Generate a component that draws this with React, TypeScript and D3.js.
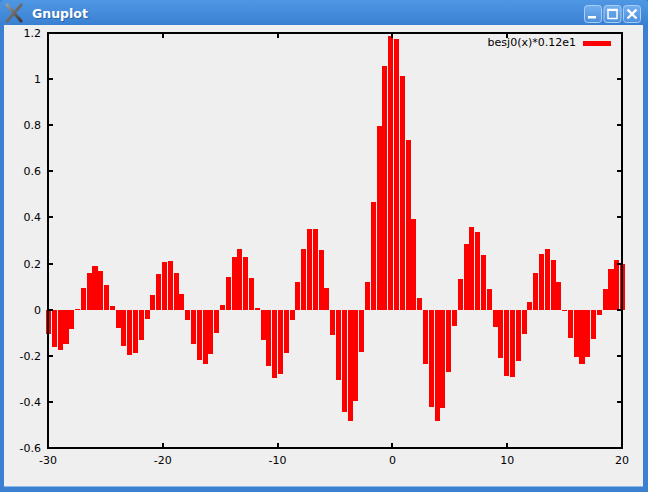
import * as d3 from 'd3'

// besj0(x)*0.12e1 sampled at gnuplot's default 100 samples over [-30:20]
const values = [
  -0.104, -0.16, -0.177, -0.15, -0.085, 0.003, 0.092, 0.16, 0.188, 0.169,
  0.108, 0.018, -0.078, -0.157, -0.198, -0.189, -0.133, -0.042, 0.062, 0.153,
  0.208, 0.211, 0.161, 0.069, -0.043, -0.148, -0.218, -0.235, -0.192, -0.101,
  0.021, 0.14, 0.229, 0.262, 0.23, 0.138, 0.007, -0.131, -0.243, -0.297,
  -0.279, -0.188, -0.043, 0.121, 0.264, 0.349, 0.349, 0.258, 0.094, -0.111,
  -0.307, -0.445, -0.481, -0.394, -0.185, 0.118, 0.466, 0.798, 1.055, 1.188,
  1.173, 1.012, 0.736, 0.395, 0.052, -0.236, -0.423, -0.483, -0.425, -0.271,
  -0.069, 0.132, 0.284, 0.357, 0.338, 0.239, 0.088, -0.075, -0.211, -0.289,
  -0.292, -0.224, -0.105, 0.035, 0.161, 0.242, 0.261, 0.215, 0.118, -0.005,
  -0.122, -0.205, -0.236, -0.207, -0.129, -0.021, 0.089, 0.175, 0.215, 0.2,
]
const xDomain: [number, number] = [-30, 20]
const yDomain: [number, number] = [-0.6, 1.2]
const xTickValues = [-30, -20, -10, 0, 10, 20]
const yTickValues = [-0.6, -0.4, -0.2, 0, 0.2, 0.4, 0.6, 0.8, 1, 1.2]
const seriesTitle = 'besj0(x)*0.12e1'
const windowTitle = 'Gnuplot'
const statusText = '-29.3571,  -0.65128'

const W = 648
const H = 492
const plot = { left: 48, right: 622, top: 33, bottom: 448 }
const FONT = '"DejaVu Sans", sans-serif'

export default function App() {
  const x = d3.scaleLinear().domain(xDomain).range([plot.left, plot.right])
  const y = d3.scaleLinear().domain(yDomain).range([plot.bottom, plot.top])
  // sample index -> x value
  const sx = d3.scaleLinear().domain([0, values.length - 1]).range(xDomain)
  const step = x(sx(1)) - x(sx(0))
  const bw = step * 0.87
  const label = (v: number) => String(+v.toFixed(1))
  const tick = 5

  return (
    <>
      <style>{'body{margin:0}'}</style>
      <svg width={W} height={H} style={{ display: 'block' }} fontFamily={FONT}>
        <defs>
          <linearGradient id="tb" x1="0" y1="0" x2="0" y2="1">
            <stop offset="0" stopColor="#4f97e3" />
            <stop offset="1" stopColor="#3a80d2" />
          </linearGradient>
          <linearGradient id="btn" x1="0" y1="0" x2="0" y2="1">
            <stop offset="0" stopColor="#74aeef" />
            <stop offset="1" stopColor="#4c90de" />
          </linearGradient>
          <linearGradient id="xi" x1="0" y1="0" x2="1" y2="1">
            <stop offset="0" stopColor="#9a9a9a" />
            <stop offset="1" stopColor="#3a3a3a" />
          </linearGradient>
        </defs>

        {/* window frame */}
        <rect x={0} y={0} width={W} height={H} fill="#3b80d1" />
        <rect x={0} y={0} width={W} height={25} rx={4} fill="url(#tb)" />
        <rect x={4} y={25} width={W - 9} height={H - 30} fill="#efefef" />

        {/* title bar icon + title */}
        <g stroke="url(#xi)" strokeWidth={3.2} strokeLinecap="round">
          <line x1={7} y1={5} x2={21} y2={21} />
          <line x1={21} y1={5} x2={7} y2={21} />
        </g>
        <text x={33} y={19} fontSize={12.5} fontWeight="bold" fill="#1e4f8c" opacity={0.6}>
          {windowTitle}
        </text>
        <text x={32} y={18} fontSize={12.5} fontWeight="bold" fill="#fff">
          {windowTitle}
        </text>

        {/* title bar buttons */}
        {[584, 603.5, 623].map((bx, i) => (
          <g key={i} transform={`translate(${bx},5)`}>
            <rect x={0.5} y={0.5} width={17} height={17} rx={3} fill="url(#btn)" stroke="#a9cdf4" />
            {i === 0 && <rect x={4} y={11} width={8} height={2.5} fill="#fff" />}
            {i === 1 && (
              <g fill="none" stroke="#fff">
                <rect x={4.5} y={4.5} width={9} height={9} strokeWidth={1.5} />
                <line x1={4} y1={5} x2={14} y2={5} strokeWidth={2} />
              </g>
            )}
            {i === 2 && (
              <g stroke="#fff" strokeWidth={2.4}>
                <line x1={4.5} y1={4.5} x2={13.5} y2={13.5} />
                <line x1={13.5} y1={4.5} x2={4.5} y2={13.5} />
              </g>
            )}
          </g>
        ))}

        {/* bars */}
        <g fill="#ff0000" shapeRendering="crispEdges">
          {values.map((v, i) => (
            <rect
              key={i}
              x={x(sx(i)) - bw / 2 + 0.6}
              y={y(Math.max(0, v))}
              width={bw}
              height={Math.abs(y(v) - y(0))}
            />
          ))}
        </g>

        {/* border + ticks */}
        <g stroke="#000" strokeWidth={2} shapeRendering="crispEdges" fill="none">
          <rect x={plot.left} y={plot.top} width={plot.right - plot.left} height={plot.bottom - plot.top} />
          {yTickValues.map((v) => (
            <g key={v}>
              <line x1={plot.left} x2={plot.left + tick} y1={y(v)} y2={y(v)} />
              <line x1={plot.right - tick} x2={plot.right} y1={y(v)} y2={y(v)} />
            </g>
          ))}
          {xTickValues.map((v) => (
            <g key={v}>
              <line x1={x(v)} x2={x(v)} y1={plot.bottom} y2={plot.bottom - tick} />
              <line x1={x(v)} x2={x(v)} y1={plot.top} y2={plot.top + tick} />
            </g>
          ))}
        </g>

        {/* tick labels */}
        <g fontSize={11} fill="#000">
          {yTickValues.map((v) => (
            <text key={v} x={41} y={y(v) + 4} textAnchor="end">
              {label(v)}
            </text>
          ))}
          {xTickValues.map((v) => (
            <text key={v} x={x(v)} y={464} textAnchor="middle">
              {label(v)}
            </text>
          ))}
        </g>

        {/* key */}
        <text x={576} y={46} fontSize={11} textAnchor="end" fill="#000">
          {seriesTitle}
        </text>
        <rect x={583} y={41} width={28} height={5} fill="#ff0000" />

        {/* status line, mostly hidden under the window border */}
        <text x={11} y={494} fontSize={11} fill="#000">
          {statusText}
        </text>
        <rect x={0} y={487} width={W} height={5} fill="#3b80d1" />
        <rect x={4} y={486} width={W - 9} height={1} fill="#8db8ea" />
      </svg>
    </>
  )
}
